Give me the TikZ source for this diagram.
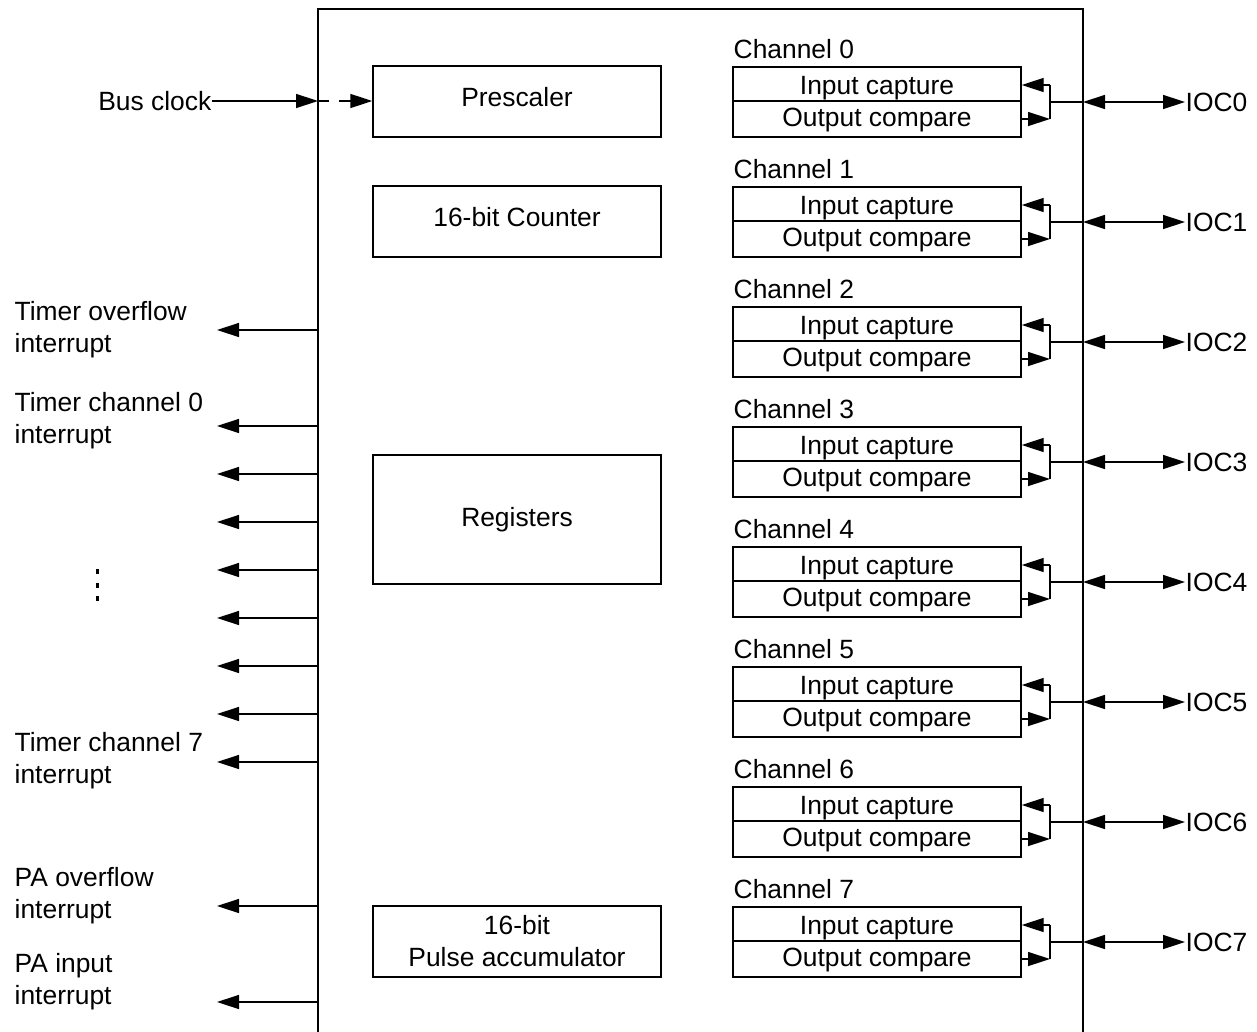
\documentclass[tikz,border=0pt]{standalone}
\usepackage{fontspec}
\setmainfont{Liberation Sans}
\usetikzlibrary{arrows.meta}
\begin{document}
\begin{tikzpicture}[x=0.5pt,y=-0.5pt,
  line width=0.7pt,
  tri/.tip={Triangle[length=11pt,width=7pt]},
  tip/.style={-tri},
  dbl/.style={tri-tri},
  blk/.style={draw, minimum width=144pt, minimum height=35.5pt, inner sep=0pt},
  chbox/.style={draw, minimum width=144pt, inner sep=0pt},
  txt/.style={inner sep=0pt, font=\fontsize{13.2}{16}\selectfont},
  ctxt/.style={txt, text depth=0pt},
  ]
\useasboundingbox (0,0) rectangle (1257,1032);
% main frame
\draw[line width=1pt] (318,1040) -- (318,9) -- (1083,9) -- (1083,1040);
% left-hand blocks
\node[blk] (pre) at (517,101.5) {};
\node[ctxt] (pret) at (517,97) {Prescaler};
\node[blk] (cnt) at (517,221.5) {};
\node[ctxt] (cntt) at (517,217) {16-bit Counter};
\node[blk, minimum height=64.5pt] (reg) at (517,519.5) {};
\node[ctxt] (regt) at (517,517) {Registers};
\node[blk] (pa) at (517,941.5) {};
\node[txt, align=center] (pat) at (517,941) {16-bit\\Pulse accumulator};
% bus clock
\node[txt, anchor=east] (bus) at (212,101) {Bus clock};
\coordinate (clkin) at (318,101);
\coordinate (clkd) at (329,101);
\coordinate (clke) at (339,101);
\draw[tip] (bus.east) -- (clkin);
\draw (clkin) -- (clkd);
\draw[tip] (clke) -- (pre.west |- clke);
% interrupts
\foreach \y [count=\i] in {330,426,474,522,570,618,666,714,762,906,1002} {
  \coordinate (iw\i) at (318,\y);
  \coordinate (ie\i) at (217,\y);
  \draw[tip] (iw\i) -- (ie\i);
}
\node[txt, align=left, anchor=west] (l1) at (14,330) {Timer overflow\\interrupt};
\node[txt, align=left, anchor=west] (l2) at (14,421) {Timer channel 0\\interrupt};
\node[txt, align=left, anchor=west] (l3) at (14,761) {Timer channel 7\\interrupt};
\node[txt, align=left, anchor=west] (l4) at (14,896) {PA overflow\\interrupt};
\node[txt, align=left, anchor=west] (l5) at (14,982) {PA input\\interrupt};
% vertical ellipsis
\foreach \y in {571,585,598} \fill (95.5,\y-2.5) rectangle (98.5,\y+2.5);
% channels
\foreach \k in {0,...,7} {
  \pgfmathsetmacro\t{67+120*\k}
  \node[chbox, minimum height=17pt] (ic\k) at (877,\t+17) {};
  \node[chbox, minimum height=18pt] (oc\k) at (877,\t+52) {};
  \node[ctxt] (ict\k) at (877,\t+18) {Input capture};
  \node[ctxt] (oct\k) at (877,\t+50) {Output compare};
  \node[ctxt, anchor=west] (ch\k) at (733,\t-18) {Channel \k};
  \coordinate (bt\k) at (1050,\t+18);
  \coordinate (bb\k) at (1050,\t+52);
  \coordinate (bm\k) at (1050,\t+35);
  \coordinate (wall\k) at (1083,\t+35);
  \node[ctxt, anchor=west] (ioc\k) at (1185,\t+35) {IOC\k};
  \draw[tip] (bt\k) -- (ic\k.east |- bt\k);
  \draw[tip] (oc\k.east |- bb\k) -- (bb\k);
  \draw (bt\k) -- (bb\k);
  \draw (bm\k) -- (wall\k);
  \draw[dbl] (wall\k) -- (ioc\k.west);
}
\end{tikzpicture}
\end{document}
